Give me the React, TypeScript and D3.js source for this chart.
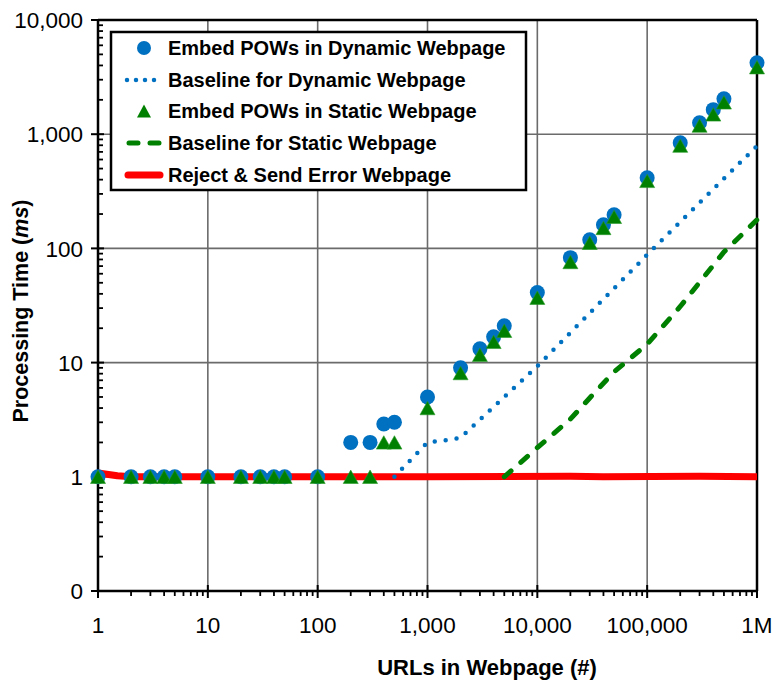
import React from 'react';
import * as d3 from 'd3';

const xUrls = [1, 2, 3, 4, 5, 10, 20, 30, 40, 50, 100, 200, 300, 400, 500, 1000, 2000, 3000, 4000, 5000, 10000, 20000, 30000, 40000, 50000, 100000, 200000, 300000, 400000, 500000, 1000000];
const yDynamic = [1, 1, 1, 1, 1, 1, 1, 1, 1, 1, 1, 2, 2, 2.9, 3, 5, 9, 13.2, 16.8, 21, 41, 83, 119, 161, 197, 415, 840, 1260, 1640, 2040, 4220];
const yStatic = [1, 1, 1, 1, 1, 1, 1, 1, 1, 1, 1, 1, 1, 2, 2, 4, 8.1, 11.7, 15.2, 19, 37, 76, 112, 151, 189, 390, 794, 1190, 1490, 1900, 3860];

const xBaseDyn = [500, 600, 1000, 1500, 2000, 5000, 10000, 100000, 1000000];
const yBaseDyn = [1, 1.2, 2, 2.1, 2.2, 5, 9.3, 88, 790];

const xBaseSta = [5000, 10000, 20000, 30000, 50000, 100000, 200000, 500000, 1000000];
const yBaseSta = [1, 1.8, 3.2, 4.9, 8.3, 14.5, 31, 93, 178];

const xReject = [1, 1.5, 2, 1000, 20000, 40000, 300000, 1000000];
const yReject = [1.08, 1.02, 1, 1, 1.01, 1, 1.01, 1];

const xTickVals = [1, 10, 100, 1000, 10000, 100000, 1000000];
const xTickLabels = ['1', '10', '100', '1,000', '10,000', '100,000', '1M'];
const yTickVals = [0.1, 1, 10, 100, 1000, 10000];
const yTickLabels = ['0', '1', '10', '100', '1,000', '10,000'];

const seriesNames = [
  'Embed POWs in Dynamic Webpage',
  'Baseline for Dynamic Webpage',
  'Embed POWs in Static Webpage',
  'Baseline for Static Webpage',
  'Reject & Send Error Webpage',
];

const BLUE = '#0070C0';
const GREEN = '#008000';
const RED = '#FF0000';
const FONT = '"Liberation Sans", Arial, Helvetica, sans-serif';

export default function App() {
  const W = 772, H = 681;
  const left = 98, right = 757, top = 20, bottom = 591;
  const x = d3.scaleLog().domain([1, 1e6]).range([left, right]);
  const y = d3.scaleLog().domain([0.1, 1e4]).range([bottom, top]);

  const line = d3.line<[number, number]>().x(d => x(d[0])).y(d => y(d[1]));
  const zip = (a: number[], b: number[]) => a.map((v, i) => [v, b[i]] as [number, number]);

  const tri = (cx: number, cy: number, w = 7.5, h = 6.7) =>
    `M${cx},${cy - h}L${cx + w},${cy + h}L${cx - w},${cy + h}Z`;

  const xMinor: number[] = [];
  for (let d = 1; d < 1e6; d *= 10) for (let k = 2; k <= 9; k++) xMinor.push(d * k);
  const yMinor: number[] = [];
  for (let d = 0.1; d < 1e4 - 1; d *= 10) for (let k = 2; k <= 9; k++) yMinor.push(d * k);

  const legY = [48, 80, 111, 143, 175];
  const lx0 = 127, lx1 = 161, lmx = 144;

  return (
    <svg width={W} height={H} style={{ position: 'absolute', left: 0, top: 0, display: 'block', background: '#fff' }}>
      <rect x={0} y={0} width={W} height={H} fill="#fff" />
      {xTickVals.slice(1, -1).map(v => (
        <line key={'gx' + v} x1={x(v)} x2={x(v)} y1={top} y2={bottom} stroke="#6b6b6b" strokeWidth={1.6} />
      ))}
      {yTickVals.slice(1, -1).map(v => (
        <line key={'gy' + v} x1={left} x2={right} y1={y(v)} y2={y(v)} stroke="#6b6b6b" strokeWidth={1.6} />
      ))}
      <line x1={left} x2={right} y1={top} y2={top} stroke="#000" strokeWidth={2.5} />
      <line x1={right} x2={right} y1={top} y2={bottom} stroke="#000" strokeWidth={2.5} />
      <line x1={left} x2={left} y1={top - 1} y2={bottom + 1} stroke="#000" strokeWidth={2.5} />
      <line x1={left - 1} x2={right + 1} y1={bottom} y2={bottom} stroke="#000" strokeWidth={2.5} />
      {yMinor.map((v, i) => (
        <line key={'ym' + i} x1={left} x2={left + 5} y1={y(v)} y2={y(v)} stroke="#000" strokeWidth={1.8} />
      ))}
      {yTickVals.map(v => (
        <line key={'yM' + v} x1={left - 7} x2={left + 6} y1={y(v)} y2={y(v)} stroke="#000" strokeWidth={2} />
      ))}
      {xMinor.map((v, i) => (
        <line key={'xm' + i} x1={x(v)} x2={x(v)} y1={bottom} y2={bottom + 5} stroke="#000" strokeWidth={1.8} />
      ))}
      {xTickVals.map(v => (
        <line key={'xM' + v} x1={x(v)} x2={x(v)} y1={bottom - 6} y2={bottom + 7} stroke="#000" strokeWidth={2} />
      ))}
      {yTickVals.map((v, i) => (
        <text key={'yl' + v} x={83} y={y(v)} dy="0.36em" textAnchor="end" fontFamily={FONT} fontSize={22.5} fill="#000">
          {yTickLabels[i]}
        </text>
      ))}
      {xTickVals.map((v, i) => (
        <text key={'xl' + v} x={x(v)} y={633} textAnchor="middle" fontFamily={FONT} fontSize={22.5} fill="#000">
          {xTickLabels[i]}
        </text>
      ))}
      <text x={487} y={675} textAnchor="middle" fontFamily={FONT} fontWeight="bold" fontSize={22} fill="#000">
        URLs in Webpage (#)
      </text>
      <text transform={`translate(28,311) rotate(-90)`} textAnchor="middle" fontFamily={FONT} fontWeight="bold" fontSize={21.5} fill="#000">
        Processing Time (<tspan fontStyle="italic">ms</tspan>)
      </text>
      <path d={line(zip(xReject, yReject)) || ''} fill="none" stroke={RED} strokeWidth={7} strokeLinejoin="round" />
      <path d={line(zip(xBaseSta, yBaseSta)) || ''} fill="none" stroke={GREEN} strokeWidth={5} strokeDasharray="9 13" strokeLinecap="round" />
      <path d={line(zip(xBaseDyn, yBaseDyn)) || ''} fill="none" stroke={BLUE} strokeWidth={4.5} strokeDasharray="0 11" strokeLinecap="round" />
      {xUrls.map((v, i) => (
        <circle key={'c' + i} cx={x(v)} cy={y(yDynamic[i])} r={7.5} fill={BLUE} />
      ))}
      {xUrls.map((v, i) => (
        <path key={'t' + i} d={tri(x(v), y(yStatic[i]))} fill={GREEN} stroke="#2a9a2a" strokeWidth={0.6} />
      ))}
      <rect x={111} y={32} width={415} height={158} fill="#fff" stroke="#000" strokeWidth={2.5} />
      <circle cx={lmx} cy={legY[0]} r={7} fill={BLUE} />
      <line x1={lx0} x2={lx1} y1={legY[1]} y2={legY[1]} stroke={BLUE} strokeWidth={4.5} strokeDasharray="0 9" strokeLinecap="round" />
      <path d={tri(lmx, legY[2], 7, 6.5)} fill={GREEN} />
      <line x1={lx0 + 2} x2={lx1 - 2} y1={legY[3]} y2={legY[3]} stroke={GREEN} strokeWidth={5} strokeDasharray="9 12" strokeLinecap="round" />
      <line x1={lx0 + 1} x2={lx1 - 1} y1={legY[4]} y2={legY[4]} stroke={RED} strokeWidth={7} strokeLinecap="round" />
      {seriesNames.map((s, i) => (
        <text key={'lt' + i} x={168} y={legY[i]} dy="0.36em" fontFamily={FONT} fontWeight="bold" fontSize={20} fill="#000">
          {s}
        </text>
      ))}
    </svg>
  );
}
